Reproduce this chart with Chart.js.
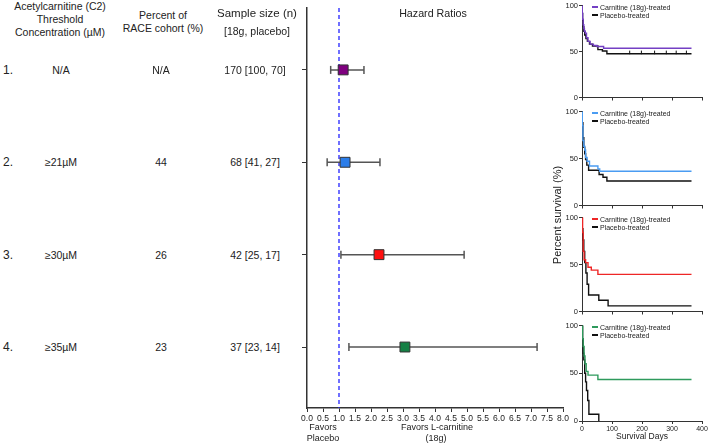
<!DOCTYPE html>
<html>
<head>
<meta charset="utf-8">
<script src="https://cdn.jsdelivr.net/npm/chart.js@4.4.1/dist/chart.umd.min.js"></script>
<style>
  body { margin: 0; background: #fff; }
  #wrap { position: relative; width: 709px; height: 444px; overflow: hidden;
          font-family: "Liberation Sans", Arial, sans-serif; color: #222; }
  .t { position: absolute; white-space: nowrap; line-height: 1; transform: translate(-50%, -50%); }
  canvas { position: absolute; }
</style>
</head>
<body>
<div id="wrap">
  <canvas id="forest" width="290" height="444" style="left:290px;top:0"></canvas>
  <canvas id="km0"></canvas>
  <canvas id="km1"></canvas>
  <canvas id="km2"></canvas>
  <canvas id="km3"></canvas>
</div>
<script>
// table
const headerThreshold = ["Acetylcarnitine (C2)", "Threshold", "Concentration (µM)"];
const headerPercent = ["Percent of", "RACE cohort (%)"];
const headerSample = ["Sample size (n)", "[18g, placebo]"];
const rowNumbers = ["1.", "2.", "3.", "4."];
const thresholds = ["N/A", "≥21µM", "≥30µM", "≥35µM"];
const percentCohort = ["N/A", "44", "26", "23"];
const sampleSizes = ["170 [100, 70]", "68 [41, 27]", "42 [25, 17]", "37 [23, 14]"];

// hazard ratios
const rowPos = [1, 2, 3, 4];
const hazardRatio = [1.13, 1.19, 2.25, 3.06];
const ciLow = [0.74, 0.63, 1.06, 1.31];
const ciHigh = [1.78, 2.28, 4.91, 7.19];
const markerColors = ["#7f007f", "#2b7de9", "#ff1010", "#158045"];

// survival curves (days, percent)
const carnDays1 = [0, 1, 2, 4, 6, 8, 11, 15, 20, 27, 38, 50, 72, 365];
const carnSurv1 = [100, 92, 85, 79, 75, 72, 70, 65, 61, 58, 56.5, 55.5, 53.5, 53.5];
const placDays1 = [0, 1, 2, 4, 6, 9, 13, 18, 25, 35, 53, 68, 83, 365];
const placSurv1 = [100, 91, 84, 77, 72, 68, 64, 61, 58, 56, 52, 50.5, 47.5, 47.5];
const placCensor1 = [159, 198, 242, 281, 314, 348];

const carnDays2 = [0, 1, 3, 6, 9, 12, 17, 25, 53, 59, 365];
const carnSurv2 = [100, 85, 69, 63, 59, 51, 47, 42, 39, 36.5, 36.5];
const placDays2 = [0, 1, 3, 6, 9, 12, 16, 22, 57, 70, 83, 365];
const placSurv2 = [100, 88, 72, 62, 55, 49, 43, 37.5, 33, 30, 26, 26];

const carnDays3 = [0, 2, 4, 7, 12, 20, 31, 53, 365];
const carnSurv3 = [100, 84, 64, 55, 52, 47, 44, 39.5, 39.5];
const placDays3 = [0, 1, 3, 6, 9, 13, 17, 22, 56, 87, 365];
const placSurv3 = [100, 88, 76, 64, 52, 41, 29, 17.5, 12, 6, 6];

const carnDays4 = [0, 2, 4, 7, 10, 14, 20, 53, 365];
const carnSurv4 = [100, 86, 78, 68, 60, 52, 48, 43.5, 43.5];
const placDays4 = [0, 2, 4, 6, 9, 12, 15, 19, 23, 56];
const placSurv4 = [100, 86, 71, 64, 50, 41, 32, 21.5, 7, 0];

const carnColors = ["#7440c4", "#4a9cf2", "#ee2626", "#2e9a5c"];
const carnLabel = "Carnitine (18g)-treated";
const placLabel = "Placebo-treated";

const wrap = document.getElementById("wrap");
function addText(str, x, y, size, extra) {
  const d = document.createElement("div");
  d.className = "t";
  d.textContent = str;
  d.style.left = x + "px";
  d.style.top = y + "px";
  d.style.fontSize = size + "px";
  if (extra) Object.assign(d.style, extra);
  wrap.appendChild(d);
  return d;
}

// left table
headerThreshold.forEach((s, i) => addText(s, 60, 6 + i * 13, 10.5));
headerPercent.forEach((s, i) => addText(s, 163, 15 + i * 13, 10.5));
addText(headerSample[0], 257, 14, 11.5);
addText(headerSample[1], 257, 31, 10.5);
const rowY = [70, 162, 255, 347];
rowNumbers.forEach((s, i) => {
  addText(s, 8, rowY[i], 12);
  addText(thresholds[i], 61, rowY[i], 10.5);
  addText(percentCohort[i], 161, rowY[i], 10.5);
  addText(sampleSizes[i], 255, rowY[i], 10.5);
});

// forest labels
addText("Hazard Ratios", 433, 13, 10.7);
addText("Favors", 323, 427, 9);
addText("Placebo", 323, 438, 9);
addText("Favors L-carnitine", 437, 427, 9);
addText("(18g)", 436, 438, 9);

// forest plot
const forestSets = [
  {
    data: rowPos.map((r, i) => ({ x: hazardRatio[i], y: r })),
    pointStyle: "rect",
    pointRadius: 7,
    pointBackgroundColor: markerColors,
    pointBorderColor: "#333",
    pointBorderWidth: 1,
  },
];
rowPos.forEach((r, i) => {
  forestSets.push({
    data: [{ x: ciLow[i], y: r }, { x: ciHigh[i], y: r }],
    showLine: true,
    borderColor: "#555",
    borderWidth: 1.5,
    pointStyle: "line",
    pointRotation: 90,
    pointRadius: 4,
    pointBorderColor: "#555",
    pointBorderWidth: 1.5,
  });
});
forestSets.push({
  data: [{ x: 1, y: 0.33 }, { x: 1, y: 4.66 }],
  showLine: true,
  borderColor: "#2424ff",
  borderWidth: 1.3,
  borderDash: [4, 3],
  pointRadius: 0,
});

new Chart(document.getElementById("forest"), {
  type: "scatter",
  data: { datasets: forestSets },
  options: {
    responsive: false,
    animation: false,
    layout: { padding: { top: 8, right: 17, left: 0, bottom: 0 } },
    plugins: { legend: { display: false }, tooltip: { enabled: false } },
    scales: {
      x: {
        type: "linear",
        min: 0,
        max: 8,
        afterFit: (s) => { s.height = 36; },
        ticks: {
          stepSize: 0.5,
          autoSkip: false,
          maxRotation: 0,
          padding: 2,
          color: "#222",
          font: { size: 8.5, family: "Liberation Sans" },
          callback: (v) => v.toFixed(1),
        },
        grid: { drawOnChartArea: false, tickLength: 4, color: "#333" },
        border: { color: "#333", width: 1.5 },
      },
      y: {
        type: "linear",
        reverse: true,
        min: 0.33,
        max: 4.66,
        afterFit: (s) => { s.width = 17; },
        afterBuildTicks: (s) => { s.ticks = rowPos.map((v) => ({ value: v })); },
        ticks: { display: false },
        grid: { drawOnChartArea: false, tickLength: 5, color: "#333" },
        border: { color: "#333", width: 1.5 },
      },
    },
  },
});

// survival plots
const kmCarnDays = [carnDays1, carnDays2, carnDays3, carnDays4];
const kmCarnSurv = [carnSurv1, carnSurv2, carnSurv3, carnSurv4];
const kmPlacDays = [placDays1, placDays2, placDays3, placDays4];
const kmPlacSurv = [placSurv1, placSurv2, placSurv3, placSurv4];
const kmCensor = [placCensor1, [], [], []];

const kmTop = [5, 111, 217, 325];
const kmBottom = [99, 207, 313, 421];
const kmLeft = 560, kmAxisW = 22, kmRightPad = 7, kmTopPad = 5;

function toPoints(days, surv) {
  return days.map((d, i) => ({ x: d, y: surv[i] }));
}

for (let k = 0; k < 4; k++) {
  const last = k === 3;
  const xH = last ? 14 : 4;
  const cv = document.getElementById("km" + k);
  cv.width = 149;
  cv.height = kmBottom[k] - kmTop[k] + kmTopPad + xH;
  cv.style.left = kmLeft + "px";
  cv.style.top = kmTop[k] - kmTopPad + "px";

  const lastSurv = kmPlacSurv[k][kmPlacSurv[k].length - 1];
  new Chart(cv, {
    type: "scatter",
    data: {
      datasets: [
        {
          data: toPoints(kmCarnDays[k], kmCarnSurv[k]),
          showLine: true,
          stepped: "before",
          borderColor: carnColors[k],
          borderWidth: 1.4,
          pointRadius: 0,
        },
        {
          data: toPoints(kmPlacDays[k], kmPlacSurv[k]),
          showLine: true,
          stepped: "before",
          borderColor: "#111",
          borderWidth: 1.4,
          pointRadius: 0,
        },
        {
          data: kmCensor[k].map((d) => ({ x: d, y: lastSurv + 1.5 })),
          pointStyle: "line",
          pointRotation: 90,
          pointRadius: 1.8,
          pointBorderColor: "#111",
          pointBorderWidth: 1,
        },
      ],
    },
    options: {
      responsive: false,
      animation: false,
      layout: { padding: { top: kmTopPad, right: kmRightPad, left: 0, bottom: 0 } },
      plugins: { legend: { display: false }, tooltip: { enabled: false } },
      scales: {
        x: {
          type: "linear",
          min: 0,
          max: 400,
          afterFit: (s) => { s.height = xH; },
          ticks: {
            display: last,
            stepSize: 100,
            maxRotation: 0,
            padding: 1,
            color: "#222",
            font: { size: 7, family: "Liberation Sans" },
          },
          grid: { drawOnChartArea: false, tickLength: 3, color: "#333" },
          border: { color: "#333", width: 1 },
        },
        y: {
          type: "linear",
          min: 0,
          max: 100,
          afterFit: (s) => { s.width = kmAxisW; },
          ticks: {
            stepSize: 50,
            padding: 1,
            color: "#222",
            font: { size: 7.5, family: "Liberation Sans" },
          },
          grid: { drawOnChartArea: false, tickLength: 3, color: "#333" },
          border: { color: "#333", width: 1 },
        },
      },
    },
  });

  // legend
  [[carnLabel, carnColors[k]], [placLabel, "#111"]].forEach(([label, col], j) => {
    const y = kmTop[k] + 2 + j * 8;
    const ln = document.createElement("div");
    ln.style.cssText = `position:absolute;left:592px;top:${y - 0.75}px;width:6px;height:1.5px;background:${col}`;
    wrap.appendChild(ln);
    addText(label, 600, y, 7, { transform: "translate(0,-50%)" });
  });
}

addText("Percent survival (%)", 557, 215, 11, { transform: "translate(-50%,-50%) rotate(-90deg)" });
addText("Survival Days", 642, 436, 8.5);
</script>
</body>
</html>
